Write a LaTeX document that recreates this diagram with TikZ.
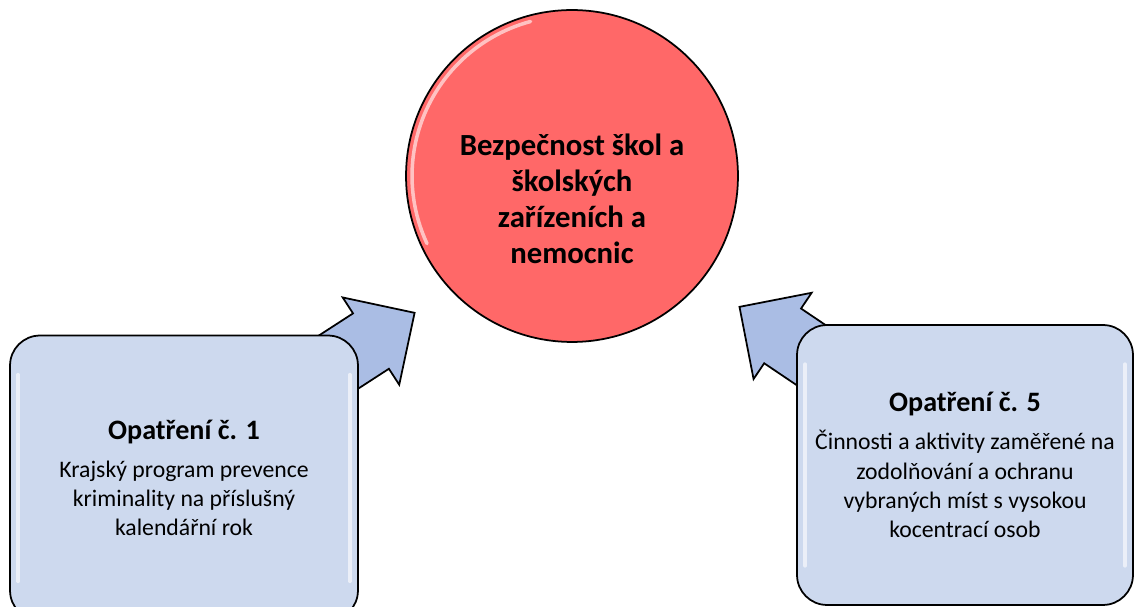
\documentclass[tikz,border=0pt]{standalone}
\usepackage{fontspec}
\setmainfont{Carlito}
\usetikzlibrary{calc,positioning,backgrounds}
\definecolor{hubred}{RGB}{255,104,104}
\definecolor{boxblue}{RGB}{205,217,238}
\definecolor{arrowblue}{RGB}{170,189,228}

% block arrow from a tail coordinate (#1) to a tip coordinate (#2)
\newcommand{\flowarrow}[2]{%
    \coordinate (ahead) at ($(#2)!1.04cm!(#1)$);
    \draw[flow] ($(#1)!0.66cm!90:(#2)$) -- ($(ahead)!0.66cm!90:(#2)$)
        -- ($(ahead)!1.04cm!90:(#2)$) -- (#2)
        -- ($(ahead)!1.04cm!-90:(#2)$) -- ($(ahead)!0.66cm!-90:(#2)$)
        -- ($(#1)!0.66cm!-90:(#2)$) -- cycle;
}

\begin{document}
\begin{tikzpicture}[x=0.02cm, y=-0.02cm,
    hub/.style={circle, draw, line width=1pt, fill=hubred, minimum size=6.64cm, inner sep=0pt},
    hubtext/.style={align=center, font=\fontsize{17.5}{20.5}\selectfont\bfseries},
    opatbox/.style={draw, line width=1pt, fill=boxblue, rounded corners=0.6cm, align=center,
        font=\fontsize{13.5}{16.6}\selectfont},
    flow/.style={draw, line width=1pt, fill=arrowblue, line join=miter},
    gloss/.style={white, line width=2pt, opacity=0.6, line cap=round}]
    \useasboundingbox (0,0) rectangle (1134,607);

    % Central goal
    \node[hub] (hub) at (572,176) {};
    \node[hubtext] (goal) at ([yshift=-0.46cm]hub.center)
        {Bezpečnost škol a\\školských\\zařízeních a\\nemocnic};
    \draw[gloss] (hub.center) ++(105:3.2cm) arc[start angle=105, end angle=205, radius=3.2cm];

    % Measures
    \node[opatbox, minimum width=6.96cm, minimum height=5.7cm] (op1) at (184,478)
        {{\fontsize{16}{19}\selectfont\bfseries Opatření č. 1}\\[5pt]
         Krajský program prevence\\kriminality na příslušný\\kalendářní rok};
    \node[opatbox, minimum width=6.72cm, minimum height=5.6cm] (op5) at (965,465)
        {{\fontsize{16}{19}\selectfont\bfseries Opatření č. 5}\\[5pt]
         Činnosti a aktivity zaměřené na\\zodolňování a ochranu\\vybraných míst s vysokou\\kocentrací osob};
    \draw[gloss] ([shift={(9,40)}]op1.north west) -- ([shift={(9,-40)}]op1.south west);
    \draw[gloss] ([shift={(-9,40)}]op1.north east) -- ([shift={(-9,-40)}]op1.south east);
    \draw[gloss] ([shift={(9,40)}]op5.north west) -- ([shift={(9,-40)}]op5.south west);
    \draw[gloss] ([shift={(-9,40)}]op5.north east) -- ([shift={(-9,-40)}]op5.south east);

    % Arrows towards the goal
    \coordinate (tail1) at ([shift={(-69,59)}]op1.north east);
    \coordinate (tip1) at ($(hub.center)!1.25!(hub.221)$);
    \coordinate (tail5) at ([shift={(67,66)}]op5.north west);
    \coordinate (tip5) at ($(hub.center)!1.274!(hub.322)$);
    \begin{pgfonlayer}{background}
        \flowarrow{tail1}{tip1}
        \flowarrow{tail5}{tip5}
    \end{pgfonlayer}
\end{tikzpicture}
\end{document}
